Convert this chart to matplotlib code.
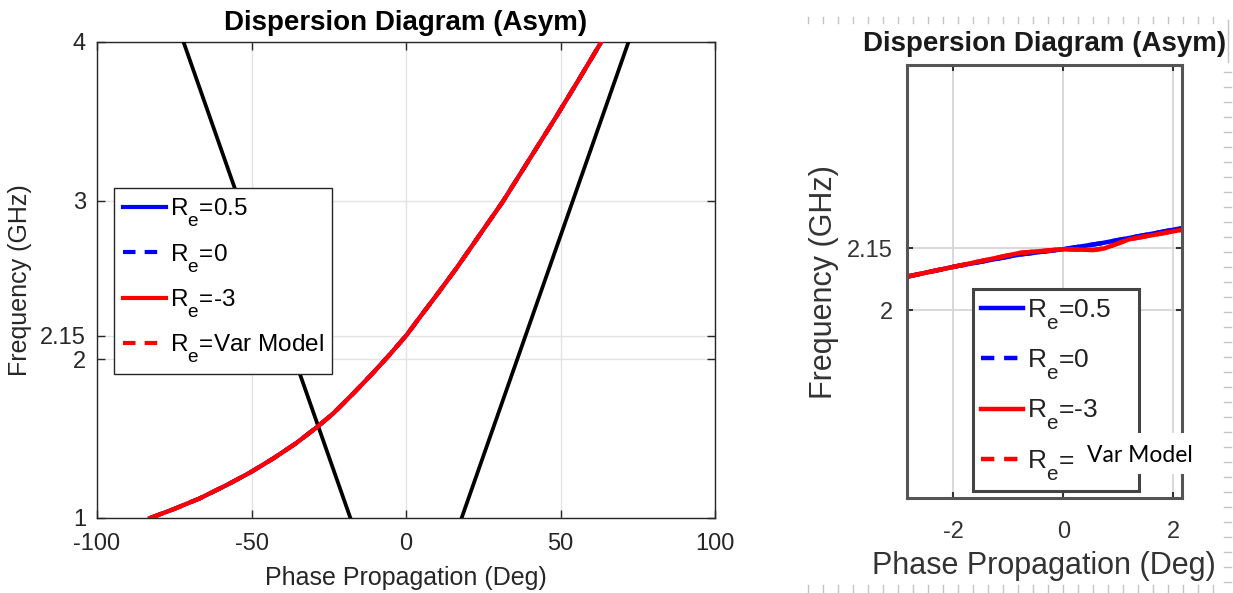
import matplotlib
matplotlib.use("Agg")
import matplotlib.pyplot as plt
from matplotlib.lines import Line2D
from matplotlib.patches import Rectangle
import numpy as np

plt.rcParams['font.family'] = ['Liberation Sans', 'DejaVu Sans']
plt.rcParams['mathtext.fontset'] = 'custom'
plt.rcParams['mathtext.rm'] = 'Liberation Sans'
plt.rcParams['mathtext.it'] = 'Liberation Sans:italic'
plt.rcParams['axes.unicode_minus'] = False

# larger, lower subscripts for the R_e labels
try:
    import matplotlib._mathtext as _mt
    _mt.SHRINK_FACTOR = 0.78
    _mt.FontConstantsBase.sub1 = 0.9
    _mt.FontConstantsBase.subdrop = 0.9
except Exception:
    pass

# ---- dispersion curve, full band (frequency GHz -> phase deg) ----
freq_main = [1.000, 1.055, 1.124, 1.208, 1.286, 1.376, 1.471, 1.576, 1.660, 1.786,
             1.912, 2.027, 2.153, 2.279, 2.397, 2.576, 2.786, 2.996, 3.269, 3.532,
             3.772, 4.000]
phase_main = [-82.8, -75.3, -66.7, -58.0, -50.5, -42.9, -35.6, -28.6, -23.5, -17.0,
              -10.8, -5.4, 0.2, 5.0, 9.6, 16.4, 23.9, 31.4, 40.2, 48.7,
              56.2, 63.2]

# light lines
freq_light = [1.0, 4.0]
phase_light_pos = [18.0, 72.0]
phase_light_neg = [-18.0, -72.0]

# ---- zoom around 2.15 GHz ----
zoom_phase_blue = [-2.85, -2.0, -0.79, 0.0, 0.67, 2.15]
zoom_freq_blue = [2.081, 2.105, 2.135, 2.148, 2.162, 2.199]
zoom_phase_red = [-2.85, -2.0, -0.79, 0.0, 0.55, 0.75, 1.20, 2.15]
zoom_freq_red = [2.081, 2.105, 2.139, 2.148, 2.146, 2.150, 2.172, 2.195]

series_labels = [r'R$_{\mathrm{e}}$=0.5', r'R$_{\mathrm{e}}$=0',
                 r'R$_{\mathrm{e}}$=-3', r'R$_{\mathrm{e}}$=Var Model']
zoom_labels = [r'R$_{\mathrm{e}}$=0.5', r'R$_{\mathrm{e}}$=0',
               r'R$_{\mathrm{e}}$=-3', r'R$_{\mathrm{e}}$=']
series_styles = [('#0000ff', '-'), ('#0000ff', '--'), ('#ff0000', '-'), ('#ff0000', '--')]

main_xticks = [-100, -50, 0, 50, 100]
main_yticks = [1, 2, 2.15, 3, 4]
main_yticklabels = ['1', '2', '2.15', '3', '4']
zoom_xticks = [-2, 0, 2]
zoom_yticks = [2, 2.15]
zoom_yticklabels = ['2', '2.15']

W, H = 1233, 593
fig = plt.figure(figsize=(W / 100, H / 100), dpi=100)
fig.patch.set_facecolor('white')


def px_box(x0, y0, x1, y1):
    return [x0 / W, 1 - y1 / H, (x1 - x0) / W, (y1 - y0) / H]


TXT = '#262626'

# ================= main axes =================
ax = fig.add_axes(px_box(97, 42, 715, 518))
ax.plot(phase_light_neg, freq_light, color='black', lw=2.7, zorder=3)
ax.plot(phase_light_pos, freq_light, color='black', lw=2.7, zorder=3)
handles = []
for (c, ls), lab in zip(series_styles, series_labels):
    h, = ax.plot(phase_main, freq_main, color=c, ls=ls, lw=3.0, label=lab,
                 dashes=(3, 2.2) if ls == '--' else (None, None), zorder=4,
                 solid_joinstyle='round')
    handles.append(h)
ax.set_xlim(-100, 100)
ax.set_ylim(1, 4)
ax.set_xticks(main_xticks)
ax.set_yticks(main_yticks)
ax.set_yticklabels(main_yticklabels)
ax.grid(True, color='#e3e3e3', lw=1.0, zorder=0)
ax.set_axisbelow(True)
ax.tick_params(direction='in', top=True, right=True, length=6, width=1,
               labelsize=17, colors=TXT, pad=8)
ax.tick_params(axis='x', pad=11)
for s in ax.spines.values():
    s.set_color(TXT)
    s.set_linewidth(1.0)
ax.set_xlabel('Phase Propagation (Deg)', fontsize=18, color=TXT, labelpad=8)
ax.set_ylabel('Frequency (GHz)', fontsize=18, color=TXT, labelpad=6)
ax.set_title('Dispersion Diagram (Asym)', fontsize=20, fontweight='bold',
             color='black', pad=9)
leg = ax.legend(handles=handles, loc='upper left',
                bbox_to_anchor=((114 - 97) / 618, (518 - 188) / 476),
                fontsize=17.5, frameon=True, fancybox=False, framealpha=1,
                edgecolor=TXT, handlelength=1.8, handletextpad=0.15,
                labelspacing=0.52, borderpad=0.35, borderaxespad=0)
leg.get_frame().set_linewidth(1.0)
for t in leg.get_texts():
    t.set_color('black')

# ================= zoomed view =================
GR = '#555555'
az = fig.add_axes(px_box(906.7, 65, 1182, 498.3))
zh = []
for (c, ls), lab in zip(series_styles, zoom_labels):
    if c == '#0000ff':
        xs, ys = zoom_phase_blue, zoom_freq_blue
    else:
        xs, ys = zoom_phase_red, zoom_freq_red
    h, = az.plot(xs, ys, color=c, ls=ls, lw=3.2, label=lab,
                 dashes=(3, 2.2) if ls == '--' else (None, None))
    zh.append(h)
az.set_xlim(-2.85, 2.16)
az.set_ylim(1.542, 2.596)
az.set_xticks(zoom_xticks)
az.set_yticks(zoom_yticks)
az.set_yticklabels(zoom_yticklabels)
az.grid(True, color='#d6d6d6', lw=1.3)
az.set_axisbelow(True)
az.tick_params(direction='in', top=True, right=True, length=4, width=1.5,
               labelsize=17, colors='#333333', pad=10)
az.tick_params(axis='x', pad=16)
for s in az.spines.values():
    s.set_color(GR)
    s.set_linewidth(2.2)
az.set_xlabel('Phase Propagation (Deg)', fontsize=22, color='#333333', labelpad=6)
az.set_ylabel('Frequency (GHz)', fontsize=22, color='#333333', labelpad=6)
az.set_title('Dispersion Diagram (Asym)', fontsize=20, fontweight='bold',
             color='#1a1a1a', pad=10)
zx0 = (973 - 906.7) / 275.3
zw = (1139 - 973) / 275.3
ztop = (498.3 - 289) / 433.3
zleg = az.legend(handles=zh, loc='upper left', mode='expand',
                 bbox_to_anchor=(zx0, ztop - 0.5, zw, 0.5),
                 fontsize=19, frameon=True, fancybox=False, framealpha=1,
                 edgecolor='#444444', handlelength=1.6, handletextpad=0.15,
                 labelspacing=0.6, borderpad=0.3, borderaxespad=0)
zleg.get_frame().set_linewidth(2.2)
for t in zleg.get_texts():
    t.set_color('#222222')

# text patch over the last legend entry
fig.add_artist(Rectangle((1074 / W, 1 - 474 / H), 126 / W, 41 / H,
                         transform=fig.transFigure, facecolor='white',
                         edgecolor='none', zorder=5))
fig.text(1087 / W, 1 - 455 / H, 'Var Model', family=['Lato', 'DejaVu Sans'],
         fontsize=16.5, color='black', va='center', ha='left', zorder=6)

# ruler marks around the zoomed view
RC = '#c4c4c4'
for x in np.arange(808, 1226, 15):
    fig.add_artist(Line2D([x / W, x / W], [1 - 17 / H, 1 - 23 / H],
                          transform=fig.transFigure, color=RC, lw=1))
    fig.add_artist(Line2D([x / W, x / W], [1 - 585 / H, 1 - 593 / H],
                          transform=fig.transFigure, color=RC, lw=1))
for y in np.arange(72, 590, 15):
    fig.add_artist(Line2D([1224 / W, 1231 / W], [1 - y / H, 1 - y / H],
                          transform=fig.transFigure, color=RC, lw=1))
fig.add_artist(Line2D([1228 / W, 1228 / W], [1 - 20 / H, 1 - 62 / H],
                      transform=fig.transFigure, color=RC, lw=1))

fig.savefig('out.png', dpi=100, facecolor='white')
